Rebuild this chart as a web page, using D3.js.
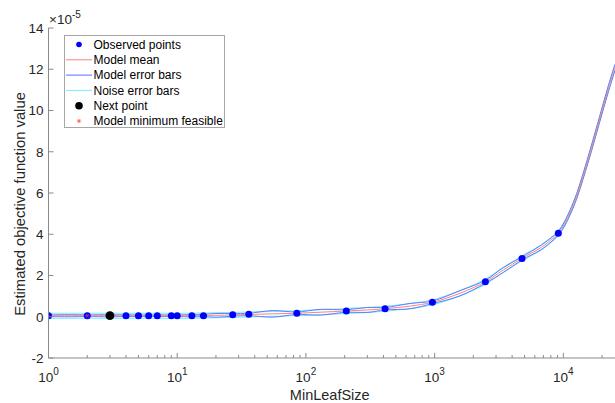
<!DOCTYPE html>
<html>
<head>
<meta charset="utf-8">
<script src="https://cdn.jsdelivr.net/npm/d3@7"></script>
<style>
  html, body { margin: 0; padding: 0; background: #fff; }
  svg { display: block; font-family: "Liberation Sans", Arial, Helvetica, sans-serif; }
</style>
</head>
<body>
<svg id="chart" width="615" height="403"></svg>
<script>
// MinLeafSize values that were evaluated, and their observed objective (units of 1e-5)
const observedX = [1, 2, 4, 5, 6, 7, 9, 10, 13, 16, 27, 36, 85, 206, 412, 961, 2480, 4776, 9140];
const observedY = [0.05, 0.05, 0.05, 0.05, 0.05, 0.05, 0.05, 0.05, 0.05, 0.05, 0.10, 0.12, 0.17, 0.28, 0.39, 0.70, 1.70, 2.83, 4.05];

// Next point to evaluate and the model's minimum feasible point
const nextPoint = { x: 3, y: 0.05 };
const modelMin = { x: 2, y: 0.05 };

// Surrogate model sampled along MinLeafSize
const modelX    = [1, 1.5, 2, 3, 4, 5, 6, 7, 9, 10, 13, 16, 20, 27, 36, 55, 85, 130, 206, 300, 412, 650, 961, 1575, 2480, 3420, 4776, 6600, 7800, 9140, 10200, 11270, 12700, 14300, 16500, 19200, 22000, 25200];
const modelMean = [0.05, 0.05, 0.05, 0.05, 0.05, 0.05, 0.05, 0.05, 0.05, 0.05, 0.05, 0.06, 0.07, 0.09, 0.11, 0.14, 0.17, 0.22, 0.28, 0.33, 0.39, 0.52, 0.70, 1.14, 1.70, 2.27, 2.83, 3.33, 3.66, 4.05, 4.50, 5.05, 5.85, 6.85, 8.15, 9.60, 10.90, 12.10];
// Half widths of the model and noise error bars
const modelHalf = [0.04, 0.05, 0.04, 0.05, 0.04, 0.04, 0.04, 0.04, 0.04, 0.04, 0.05, 0.05, 0.09, 0.06, 0.06, 0.16, 0.06, 0.14, 0.06, 0.12, 0.06, 0.13, 0.06, 0.13, 0.07, 0.12, 0.07, 0.11, 0.10, 0.08, 0.10, 0.11, 0.12, 0.13, 0.14, 0.14, 0.15, 0.15];
const noiseHalf = [0.12, 0.12, 0.12, 0.12, 0.12, 0.12, 0.12, 0.12, 0.12, 0.12, 0.12, 0.12, 0.12, 0.12, 0.12, 0.12, 0.12, 0.12, 0.12, 0.12, 0.12, 0.12, 0.12, 0.12, 0.12, 0.12, 0.12, 0.12, 0.12, 0.12, 0.12, 0.12, 0.12, 0.12, 0.12, 0.12, 0.12, 0.12];

// Axis ticks
const yTicks = [-2, 0, 2, 4, 6, 8, 10, 12, 14];
const xTicks = [1, 10, 100, 1000, 10000];
const xTickExp = ["0", "1", "2", "3", "4"];

const legendItems = ["Observed points", "Model mean", "Model error bars", "Noise error bars", "Next point", "Model minimum feasible"];

const W = 615, H = 403;
const margin = { left: 48.5, top: 28, bottom: 358 };
const svg = d3.select("#chart");

const x = d3.scaleLog().domain([1, 25200]).range([margin.left, W]);
const y = d3.scaleLinear().domain([-2, 14]).range([margin.bottom, margin.top]);

const axisColor = "#8a8a8a";
const textColor = "#262626";

svg.append("defs").append("clipPath").attr("id", "plotClip")
  .append("rect").attr("x", margin.left).attr("y", margin.top)
  .attr("width", W - margin.left).attr("height", margin.bottom - margin.top);

// Curves
const model = modelX.map((v, i) => ({ x: v, m: modelMean[i], mh: modelHalf[i], nh: noiseHalf[i] }));
const lineOf = f => d3.line().x(d => x(d.x)).y(f).curve(d3.curveCatmullRom.alpha(0.5));

const plot = svg.append("g").attr("clip-path", "url(#plotClip)");
const noiseColor = "#6ff0ff", errColor = "#5a6cff", meanColor = "#ff7f7f";

plot.append("path").datum(model).attr("d", lineOf(d => y(d.m + d.nh)))
  .attr("fill", "none").attr("stroke", noiseColor).attr("stroke-width", 1.1);
plot.append("path").datum(model).attr("d", lineOf(d => y(d.m - d.nh)))
  .attr("fill", "none").attr("stroke", noiseColor).attr("stroke-width", 1.1);
plot.append("path").datum(model).attr("d", lineOf(d => y(d.m + d.mh)))
  .attr("fill", "none").attr("stroke", errColor).attr("stroke-width", 0.9);
plot.append("path").datum(model).attr("d", lineOf(d => y(d.m - d.mh)))
  .attr("fill", "none").attr("stroke", errColor).attr("stroke-width", 0.9);
plot.append("path").datum(model).attr("d", lineOf(d => y(d.m)))
  .attr("fill", "none").attr("stroke", meanColor).attr("stroke-width", 1);

// Observed points
plot.selectAll("circle.obs").data(observedX.map((v, i) => ({ x: v, y: observedY[i] })))
  .join("circle").attr("class", "obs")
  .attr("cx", d => x(d.x)).attr("cy", d => y(d.y)).attr("r", 3.5)
  .attr("fill", "#0000ff");

// Next point
plot.append("circle").attr("cx", x(nextPoint.x)).attr("cy", y(nextPoint.y)).attr("r", 4.4).attr("fill", "#000");

// Model minimum feasible: small red asterisk
function asterisk(g, cx, cy, r) {
  const a = g.append("g").attr("transform", `translate(${cx},${cy})`)
    .attr("stroke", "#ff3030").attr("stroke-width", 0.8).attr("opacity", 0.85);
  [0, 60, 120].forEach(ang => {
    const t = ang * Math.PI / 180;
    a.append("line").attr("x1", -r * Math.cos(t)).attr("y1", -r * Math.sin(t))
      .attr("x2", r * Math.cos(t)).attr("y2", r * Math.sin(t));
  });
}
asterisk(plot, x(modelMin.x), y(modelMin.y), 2.2);

// Y axis
const yAxis = svg.append("g");
yAxis.append("line").attr("x1", margin.left).attr("x2", margin.left)
  .attr("y1", margin.top).attr("y2", margin.bottom).attr("stroke", axisColor);
yTicks.forEach(t => {
  yAxis.append("line").attr("x1", margin.left).attr("x2", margin.left + 5)
    .attr("y1", y(t)).attr("y2", y(t)).attr("stroke", axisColor);
  yAxis.append("text").attr("x", margin.left - 5).attr("y", y(t)).attr("dy", "0.36em")
    .attr("text-anchor", "end").attr("font-size", 13.5).attr("fill", textColor).text(t);
});

// Exponent label
const expT = svg.append("text").attr("x", 49).attr("y", 24).attr("font-size", 13.5).attr("fill", textColor);
expT.append("tspan").text("\u00d710");
expT.append("tspan").attr("dy", -6).attr("font-size", 10).text("-5");

// X axis
const xAxis = svg.append("g");
xAxis.append("line").attr("x1", margin.left).attr("x2", W)
  .attr("y1", margin.bottom).attr("y2", margin.bottom).attr("stroke", axisColor);
const minor = [];
for (let dec = 1; dec <= 10000; dec *= 10) {
  for (let k = 2; k <= 9; k++) if (dec * k <= 25200) minor.push(dec * k);
}
minor.forEach(t => {
  xAxis.append("line").attr("x1", x(t)).attr("x2", x(t))
    .attr("y1", margin.bottom).attr("y2", margin.bottom - 3).attr("stroke", axisColor);
});
xTicks.forEach((t, i) => {
  xAxis.append("line").attr("x1", x(t)).attr("x2", x(t))
    .attr("y1", margin.bottom).attr("y2", margin.bottom - 5).attr("stroke", axisColor);
  const lbl = xAxis.append("text").attr("x", x(t)).attr("y", 382)
    .attr("text-anchor", "middle").attr("font-size", 13.5).attr("fill", textColor);
  lbl.append("tspan").text("10");
  lbl.append("tspan").attr("dy", -7).attr("font-size", 10).text(xTickExp[i]);
});

// Axis titles
svg.append("text").attr("x", (margin.left + W) / 2 - 2).attr("y", 400)
  .attr("text-anchor", "middle").attr("font-size", 14.5).attr("fill", textColor).text("MinLeafSize");
svg.append("text").attr("transform", `translate(25,204) rotate(-90)`)
  .attr("text-anchor", "middle").attr("font-size", 14.8).attr("fill", textColor)
  .text("Estimated objective function value");

// Legend
const lg = svg.append("g");
lg.append("rect").attr("x", 64.5).attr("y", 35.5).attr("width", 160).attr("height", 92)
  .attr("fill", "#fff").attr("stroke", "#a6a6a6");
const rowY = i => 44.5 + i * 15.3;
legendItems.forEach((name, i) => {
  lg.append("text").attr("x", 93.5).attr("y", rowY(i)).attr("dy", "0.36em")
    .attr("font-size", 12).attr("fill", "#000").text(name);
});
lg.append("circle").attr("cx", 79).attr("cy", rowY(0)).attr("r", 2.8).attr("fill", "#0000ff");
[[meanColor, 1], [errColor, 2], [noiseColor, 3]].forEach(([c, i]) => {
  lg.append("line").attr("x1", 66).attr("x2", 92).attr("y1", rowY(i)).attr("y2", rowY(i))
    .attr("stroke", c).attr("stroke-width", 1);
});
lg.append("circle").attr("cx", 79).attr("cy", rowY(4)).attr("r", 3.8).attr("fill", "#000");
asterisk(lg, 79, rowY(5), 2.2);
</script>
</body>
</html>
